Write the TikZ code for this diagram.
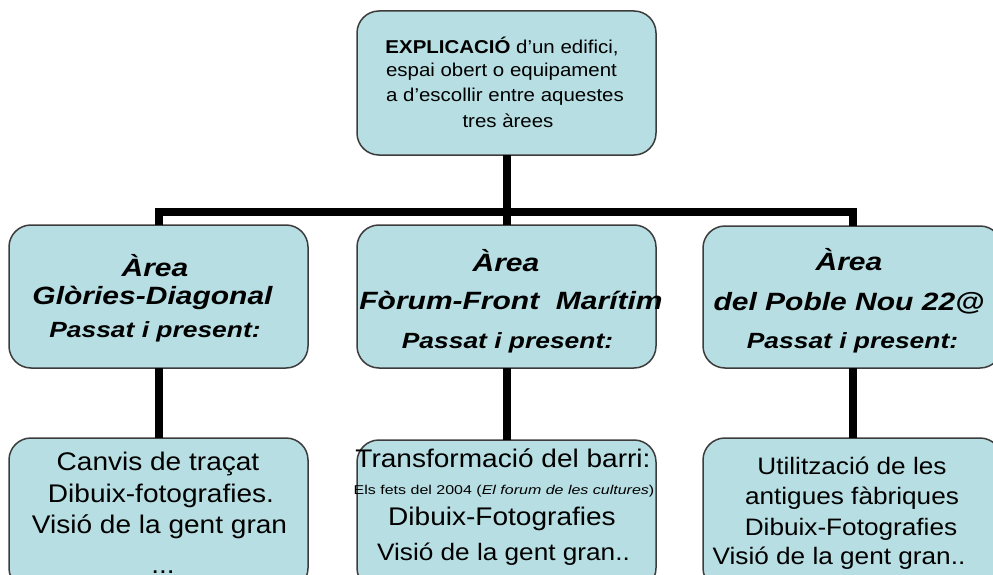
\documentclass[tikz,border=0pt]{standalone}
\usepackage{fontspec}
\setmainfont{Liberation Sans}[FakeStretch=1.1]
\newfontfamily\bifont{Liberation Sans}[FakeStretch=1.2]
\newfontfamily\smfont{Liberation Sans}[FakeStretch=1.25]
\definecolor{boxfill}{RGB}{183,222,226}
\definecolor{boxline}{RGB}{60,60,60}
\tikzset{
  box/.style={draw=boxline, line width=1.5pt, fill=boxfill, rounded corners=22pt,
    minimum width=299pt, inner sep=0pt, outer sep=0pt},
  conn/.style={line width=8pt, black, line join=miter},
  txt/.style={anchor=base, inner sep=0pt, outer sep=0pt},
  ftop/.style={txt, font=\fontsize{18.6pt}{22pt}\selectfont},
  fbi/.style={txt, font=\bifont\bfseries\itshape\fontsize{25pt}{29pt}\selectfont},
  fbis/.style={txt, font=\bifont\bfseries\itshape\fontsize{22pt}{26pt}\selectfont},
  flow/.style={txt, font=\fontsize{25.5pt}{30pt}\selectfont},
  flowr/.style={txt, font=\fontsize{23.8pt}{28pt}\selectfont},
  fsm/.style={txt, font=\smfont\fontsize{12.8pt}{15pt}\selectfont},
}
\begin{document}
\begin{tikzpicture}[x=1pt,y=-1pt]
\useasboundingbox (0,0) rectangle (993,575);
\clip (0,0) rectangle (993,575);
\fill[white] (0,0) rectangle (993,575);

% boxes
\node[box, minimum height=144pt] (top) at (506.5,83) {};
\node[box, minimum height=143pt] (mL) at (158.5,296.5) {};
\node[box, minimum height=143pt] (mM) at (506.5,296.5) {};
\node[box, minimum height=142pt] (mR) at (852.5,297) {};
\node[box, minimum height=152pt] (lL) at (158.5,514) {};
\node[box, minimum height=150pt] (lM) at (506.5,515) {};
\node[box, minimum height=152pt] (lR) at (852.5,514) {};

% connectors
\coordinate (bus) at (506.5,212);
\draw[conn] (top.south) -- (mM.north);
\draw[conn] (mL.north) |- (bus) -| (mR.north);
\draw[conn] (mL.south) -- (lL.north);
\draw[conn] (mM.south) -- (lM.north);
\draw[conn] (mR.south) -- (lR.north);

% top text
\node[ftop] (t1) at (502,54) {\textbf{EXPLICACIÓ} d’un edifici,};
\node[ftop] (t2) at (501.5,77) {espai obert o equipament};
\node[ftop] (t3) at (505,102) {a d’escollir entre aquestes};
\node[ftop] (t4) at (508,128) {tres àrees};

% middle row
\node[fbi] (aL1) at (155,276) {Àrea};
\node[fbi] (aL2) at (152.5,304) {Glòries-Diagonal};
\node[fbis] (aL3) at (155,337) {Passat i present:};

\node[fbi] (aM1) at (506,271) {Àrea};
\node[fbi] (aM2) at (511,309) {Fòrum-Front\ \ Marítim};
\node[fbis] (aM3) at (507.5,348) {Passat i present:};

\node[fbi] (aR1) at (849,270) {Àrea};
\node[fbi] (aR2) at (849,310) {del Poble Nou 22@};
\node[fbis] (aR3) at (852.5,348) {Passat i present:};

% lower left
\node[flow] (bL1) at (158,470) {Canvis de traçat};
\node[flow] (bL2) at (161,502) {Dibuix-fotografies.};
\node[flow] (bL3) at (159.5,533) {Visió de la gent gran};
\node[flow] (bL4) at (163,573) {...};

% lower middle
\node[flow] (bM1) at (503,467) {Transformació del barri:};
\node[fsm] (bM2) at (504,494) {Els fets del 2004 (\textit{El forum de les cultures})};
\node[flow] (bM3) at (502,525) {Dibuix-Fotografies};
\node[flowr] (bM4) at (503.5,560) {Visió de la gent gran..};

% lower right
\node[flowr] (bR1) at (852,474) {Utilització de les};
\node[flowr] (bR2) at (852,504) {antigues fàbriques};
\node[flowr] (bR3) at (851,535) {Dibuix-Fotografies};
\node[flowr] (bR4) at (839,564) {Visió de la gent gran..};
\end{tikzpicture}
\end{document}
